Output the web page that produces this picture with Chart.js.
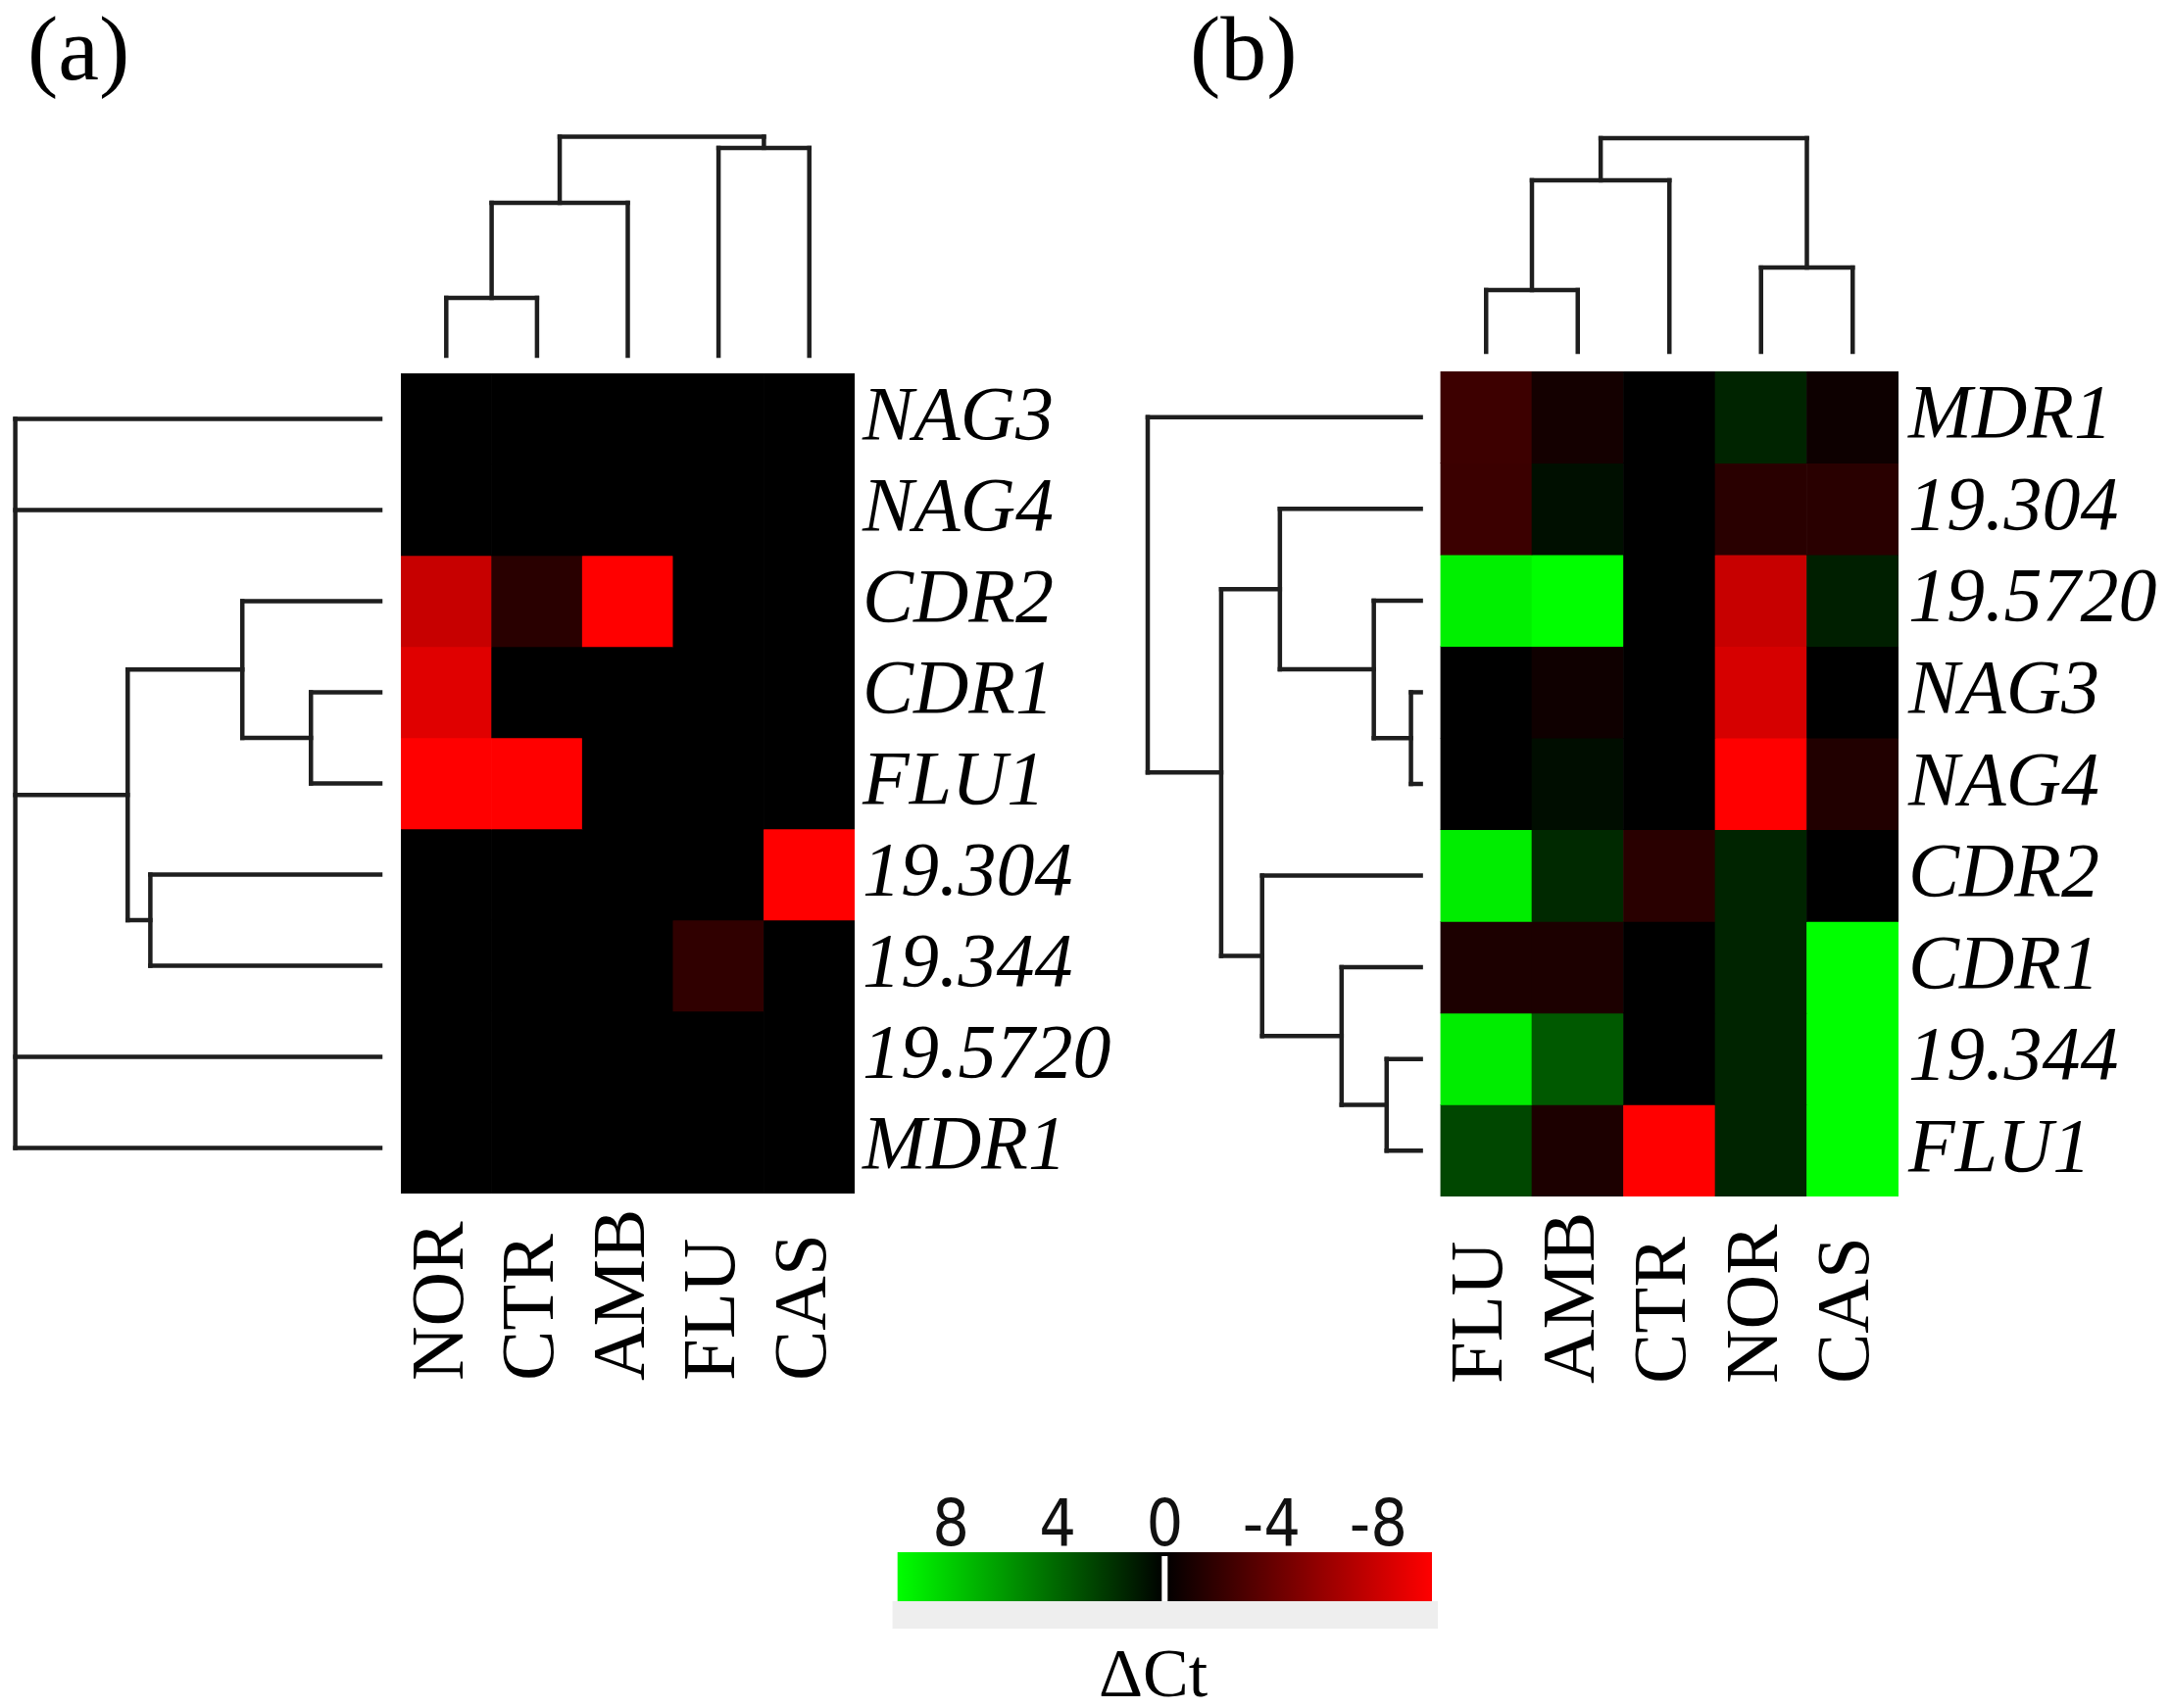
<!DOCTYPE html>
<html><head><meta charset="utf-8">
<script src="https://cdn.jsdelivr.net/npm/chart.js@4.4.1/dist/chart.umd.min.js"></script>
<style>
html,body{margin:0;padding:0;background:#fff;}
#fig{position:relative;width:2214px;height:1743px;overflow:hidden;background:#fff;}
.layer{position:absolute;left:0;top:0;width:2214px;height:1743px;}
.lbl{position:absolute;font-family:"Liberation Serif","Times New Roman",serif;color:#000;line-height:1;white-space:nowrap;}
</style></head><body>
<div id="fig">
  <div class="layer"><canvas id="heatA"></canvas></div>
  <div class="layer"><canvas id="heatB"></canvas></div>
  <div class="layer"><canvas id="colDA"></canvas></div>
  <div class="layer"><canvas id="rowDA"></canvas></div>
  <div class="layer"><canvas id="colDB"></canvas></div>
  <div class="layer"><canvas id="rowDB"></canvas></div>
  <div class="layer"><canvas id="cbar"></canvas></div>
  <div class="lbl" style="left:28px;top:2px;font-size:94px;">(a)</div>
  <div class="lbl" style="left:1214px;top:2px;font-size:94px;">(b)</div>
  <div class="lbl" style="left:1121px;top:1673px;font-size:70px;">ΔCt</div>
</div>
<script>
// ---------------- data ----------------
const colsA = ['NOR','CTR','AMB','FLU','CAS'];
const rowsA = ['NAG3','NAG4','CDR2','CDR1','FLU1','19.304','19.344','19.5720','MDR1'];
const valuesA = [
  [0,0,0,0,0],
  [0,0,0,0,0],
  [-7.8,-1.6,-10,0,0],
  [-8.8,0,0,0,0],
  [-10,-10,0,0,0],
  [0,0,0,0,-10],
  [0,0,0,-1.9,0],
  [0,0,0,0,0],
  [0,0,0,0,0]
];
const colsB = ['FLU','AMB','CTR','NOR','CAS'];
const rowsB = ['MDR1','19.304','19.5720','NAG3','NAG4','CDR2','CDR1','19.344','FLU1'];
const valuesB = [
  [-2.4,-0.8,0,1.4,-0.5],
  [-2.3,0.6,0,-1.6,-1.6],
  [9.4,10,0,-7.8,1.2],
  [0,-0.6,0,-8.4,0],
  [0,0.5,0,-10,-1.3],
  [9.3,1.6,-1.6,1.4,0],
  [-1.1,-1.1,0,1.4,10],
  [9.3,3.5,0,1.4,10],
  [2.8,-1.1,-10,1.4,10]
];
// dendrogram merges: [children, height]; child index >= n refers to an earlier merge (n + k)
const colMergesA = [[[0,1],0.264],[[5,2],0.698],[[3,4],0.949],[[6,7],1.0]];
const rowMergesA = [[[3,4],0.19],[[2,9],0.378],[[5,6],0.63],[[10,11],0.692],[[0,1,12,7,8],1.0]];
const colMergesB = [[[0,1],0.289],[[5,2],0.803],[[3,4],0.394],[[6,7],1.0]];
const rowMergesB = [[[3,4],0.036],[[2,9],0.172],[[1,10],0.516],[[7,8],0.125],[[6,12],0.29],[[5,13],0.581],[[11,14],0.731],[[0,15],1.0]];
// colour scale
const cbMin = -10, cbMax = 10;
const cbStops = [10, 0, -10];
const cbColors = ['#00ff00', '#000000', '#ff0000'];
const cbTicks = [8, 4, 0, -4, -8];

// ---------------- helpers ----------------
const W = 2214, H = 1743;
const SERIF = '"Liberation Serif","Times New Roman",serif';
function cellColor(v){
  const t = Math.min(1, Math.abs(v)/cbMax);
  const c = Math.round(t*255);
  return v >= 0 ? `rgb(0,${c},0)` : `rgb(${c},0,0)`;
}
const lineStyle = {showLine:true, pointRadius:0, pointHoverRadius:0, borderColor:'#1e1e1e', borderWidth:4.5,
  borderCapStyle:'square', clip:false, fill:false, tension:0};
function dendroSegments(n, merges, orient){
  const pos = [], hgt = [];
  for (let i=0;i<n;i++){ pos[i]=i; hgt[i]=0; }
  const segs = [];
  merges.forEach(([ch, ht], k) => {
    const id = n + k;
    const ps = ch.map(c => pos[c]);
    const lo = Math.min(...ps), hi = Math.max(...ps);
    ch.forEach(c => segs.push([[pos[c], hgt[c]], [pos[c], ht]]));
    segs.push([[lo, ht], [hi, ht]]);
    pos[id] = (lo+hi)/2; hgt[id] = ht;
  });
  return segs.map(s => Object.assign({
    data: s.map(([p, h]) => orient === 'col' ? {x:p, y:h} : {x:h, y:p})
  }, lineStyle));
}
const baseOpts = {responsive:true, maintainAspectRatio:false, animation:false, devicePixelRatio:1, events:[],
  plugins:{legend:{display:false}, tooltip:{enabled:false}}};

const colLabelPlugin = {
  id:'colLabels',
  afterDraw(chart, args, opts){
    const ctx = chart.ctx, xs = chart.scales.x;
    ctx.save();
    ctx.font = opts.font; ctx.fillStyle = '#000';
    ctx.textAlign = 'left'; ctx.textBaseline = 'middle';
    xs.getLabels().forEach((l, i) => {
      const x = xs.getPixelForValue(i) + opts.dx;
      ctx.save(); ctx.translate(x, opts.y); ctx.rotate(-Math.PI/2);
      ctx.fillText(l, 0, 0); ctx.restore();
    });
    ctx.restore();
  }
};

function heatChart(id, cols, rows, vals, area, labPad, colY){
  const LABW = 420;
  const datasets = rows.map((r, i) => ({label:r, data: cols.map(() => 1),
    backgroundColor: vals[i].map(cellColor), borderWidth:0, barPercentage:1, categoryPercentage:1, stack:'s'}));
  return new Chart(document.getElementById(id), {
    type:'bar',
    data:{labels:cols, datasets},
    options: Object.assign({}, baseOpts, {
      plugins: Object.assign({}, baseOpts.plugins, {colLabels:{font:`77px ${SERIF}`, y:colY, dx:-4}}),
      layout:{padding:{left:area.l, top:area.t, right:W-area.r-LABW, bottom:H-area.b}},
      scales:{
        x:{display:false, stacked:true},
        y:{display:false, stacked:true, min:0, max:rows.length, reverse:true},
        yLab:{type:'category', labels:rows, offset:true, position:'right',
          grid:{display:false, drawTicks:false}, border:{display:false},
          ticks:{font:{family:SERIF, style:'italic', size:78}, color:'#000', padding:labPad, autoSkip:false},
          afterFit:(s)=>{ s.width = LABW; }}
      }
    }),
    plugins:[colLabelPlugin]
  });
}

function dendroChart(id, datasets, xOpt, yOpt, area){
  return new Chart(document.getElementById(id), {
    type:'scatter',
    data:{datasets},
    options: Object.assign({}, baseOpts, {
      layout:{padding:{left:area.l, top:area.t, right:W-area.r, bottom:H-area.b}},
      scales:{
        x:Object.assign({type:'linear', display:false}, xOpt),
        y:Object.assign({type:'linear', display:false}, yOpt)
      }
    })
  });
}

// ---------------- panels ----------------
const areaA = {l:409, r:872, t:381, b:1218};
const areaB = {l:1469.5, r:1937, t:379, b:1221};
heatChart('heatA', colsA, rowsA, valuesA, areaA, 8, 1409);
heatChart('heatB', colsB, rowsB, valuesB, areaB, 10, 1412);

dendroChart('colDA', dendroSegments(colsA.length, colMergesA, 'col'),
  {min:-0.5, max:colsA.length-0.5}, {min:0, max:1}, {l:areaA.l, r:areaA.r, t:139.5, b:363});
dendroChart('rowDA', dendroSegments(rowsA.length, rowMergesA, 'row'),
  {min:0, max:1, reverse:true}, {min:-0.5, max:rowsA.length-0.5, reverse:true}, {l:15.6, r:388, t:areaA.t, b:areaA.b});
dendroChart('colDB', dendroSegments(colsB.length, colMergesB, 'col'),
  {min:-0.5, max:colsB.length-0.5}, {min:0, max:1}, {l:areaB.l, r:areaB.r, t:141, b:359});
dendroChart('rowDB', dendroSegments(rowsB.length, rowMergesB, 'row'),
  {min:0, max:1, reverse:true}, {min:-0.5, max:rowsB.length-0.5, reverse:true}, {l:1171, r:1449.6, t:areaB.t, b:areaB.b});

// ---------------- colour bar ----------------
const cbDecor = {
  id:'cbDecor',
  beforeDatasetsDraw(chart){
    const {ctx, chartArea:a} = chart;
    ctx.save(); ctx.fillStyle = '#eeeeee';
    ctx.fillRect(a.left-5, a.bottom, a.right-a.left+11, 28);
    ctx.restore();
  },
  afterDatasetsDraw(chart){
    const {ctx, chartArea:a} = chart;
    const x = chart.scales.x.getPixelForValue(0);
    ctx.save(); ctx.fillStyle = '#ffffff';
    ctx.fillRect(x-3, a.top+4, 6, a.bottom-a.top-4);
    ctx.restore();
  }
};
new Chart(document.getElementById('cbar'), {
  type:'bar',
  data:{labels:['ΔCt'], datasets:[{
    data:[[cbMin, cbMax]], borderWidth:0, barPercentage:1, categoryPercentage:1,
    backgroundColor:(c)=>{
      const ch = c.chart, xs = ch.scales.x;
      if (!ch.chartArea || !xs) return '#000';
      const x0 = xs.getPixelForValue(cbStops[0]), x1 = xs.getPixelForValue(cbStops[cbStops.length-1]);
      const g = ch.ctx.createLinearGradient(x0, 0, x1, 0);
      cbStops.forEach((v, i) => g.addColorStop((xs.getPixelForValue(v)-x0)/(x1-x0), cbColors[i]));
      return g;
    }
  }]},
  options: Object.assign({}, baseOpts, {
    indexAxis:'y',
    layout:{padding:{left:915.6, right:W-1461, top:1514, bottom:H-1634}},
    scales:{
      x:{type:'linear', min:cbMin, max:cbMax, reverse:true, position:'top',
        grid:{display:false, drawTicks:false}, border:{display:false},
        afterBuildTicks:(s)=>{ s.ticks = cbTicks.map(v => ({value:v})); },
        afterFit:(s)=>{ s.height = 70; },
        ticks:{font:{family:'"Liberation Sans Narrow","DejaVu Sans Condensed","Liberation Sans",sans-serif', size:66, lineHeight:0.82}, color:'#111',
          padding:-3, maxRotation:0, autoSkip:false, callback:(v)=>String(v)}},
      y:{display:false}
    }
  }),
  plugins:[cbDecor]
});
</script>
</body></html>
